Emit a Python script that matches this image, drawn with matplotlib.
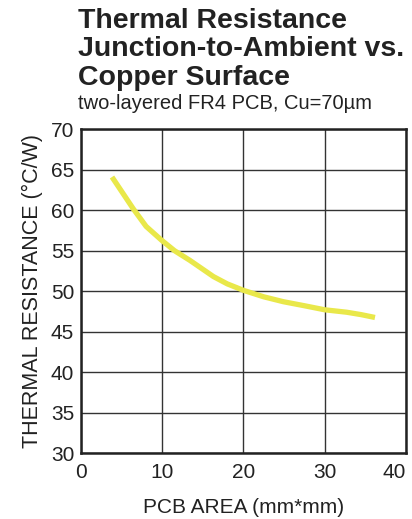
import matplotlib.pyplot as plt

# values
pcb_area = [3.8, 5.0, 6.4, 8.0, 9.9, 11.5, 13.4, 16.3, 18.0, 20.0, 22.5, 24.9, 27.5, 30.0, 32.7, 34.5, 36.2]
theta_ja = [64.1, 62.3, 60.2, 58.0, 56.3, 55.0, 53.8, 51.8, 50.9, 50.1, 49.3, 48.7, 48.2, 47.7, 47.4, 47.1, 46.75]

x_ticks = [0, 10, 20, 30, 40]
y_ticks = [30, 35, 40, 45, 50, 55, 60, 65, 70]

plt.rcParams.update({
    "font.family": ["Liberation Sans", "DejaVu Sans"],
})

fig = plt.figure(figsize=(4.12, 5.19), dpi=100)
ax = fig.add_axes([0.197, 0.127, 0.788, 0.624])

ax.plot(pcb_area, theta_ja, color='#e9e84a', linewidth=3.8, solid_capstyle='butt', zorder=3)

ax.set_xlim(0, 40)
ax.set_ylim(30, 70)
ax.set_xticks(x_ticks)
ax.set_yticks(y_ticks)
ax.tick_params(axis='both', length=0, labelsize=15, colors='#222222')
ax.tick_params(axis='x', pad=7)
ax.tick_params(axis='y', pad=5)
ax.get_xticklabels()[-1].set_horizontalalignment('right')
ax.get_xticklabels()[-1].set_x(40.2)
ax.grid(True, color='#333333', linewidth=1.0)
for s in ax.spines.values():
    s.set_linewidth(1.8)
    s.set_color('#222222')

ax.set_xlabel('PCB AREA (mm*mm)', fontsize=15, labelpad=12, color='#222222')
ax.set_ylabel('THERMAL RESISTANCE (°C/W)', fontsize=15.5, labelpad=6, color='#222222')

# title block
fig.text(0.19, 0.985, 'Thermal Resistance\nJunction-to-Ambient vs.\nCopper Surface',
         fontsize=20.5, fontweight='bold', va='top', ha='left', linespacing=1.12, color='#222222')
fig.text(0.19, 0.79, 'two-layered FR4 PCB, Cu=70µm', fontsize=14.5, va='baseline', ha='left', color='#222222')

plt.savefig('out.png', dpi=100)
